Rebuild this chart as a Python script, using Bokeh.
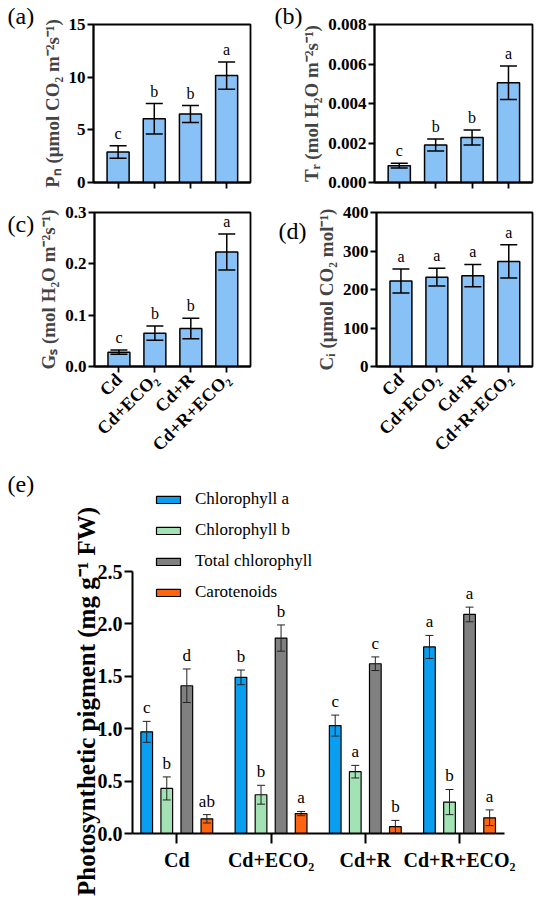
import numpy as np
from bokeh.plotting import figure
from bokeh.models import (ColumnDataSource, Whisker, TeeHead, LabelSet, Label,
                          FixedTicker, Range1d, Legend, LegendItem, NumeralTickFormatter)
from bokeh.layouts import column, row
from bokeh.embed import file_html
from bokeh.resources import INLINE
from bokeh.core.properties import value

SERIF = "Liberation Serif"

# ---------------- data ----------------
treatments = ["Cd", "Cd+ECO\u2082", "Cd+R", "Cd+R+ECO\u2082"]

pn_mean = [2.9, 6.05, 6.5, 10.15]
pn_sd = [0.6, 1.45, 0.8, 1.3]
pn_sig = ["c", "b", "b", "a"]

tr_mean = [0.00085, 0.0019, 0.00228, 0.00505]
tr_sd = [0.00012, 0.0003, 0.00038, 0.00085]
tr_sig = ["c", "b", "b", "a"]

gs_mean = [0.028, 0.065, 0.074, 0.223]
gs_sd = [0.004, 0.014, 0.02, 0.035]
gs_sig = ["c", "b", "b", "a"]

ci_mean = [222, 232, 236, 273]
ci_sd = [31, 23, 29, 43]
ci_sig = ["a", "a", "a", "a"]

pigments = ["Chlorophyll a", "Chlorophyll b", "Total chlorophyll", "Carotenoids"]
chla_mean = [0.97, 1.49, 1.03, 1.78]
chla_sd = [0.10, 0.07, 0.10, 0.11]
chla_sig = ["c", "b", "c", "a"]
chlb_mean = [0.43, 0.37, 0.59, 0.30]
chlb_sd = [0.11, 0.09, 0.06, 0.12]
chlb_sig = ["b", "b", "a", "b"]
tot_mean = [1.41, 1.865, 1.62, 2.09]
tot_sd = [0.16, 0.125, 0.065, 0.07]
tot_sig = ["d", "b", "c", "a"]
car_mean = [0.14, 0.19, 0.065, 0.15]
car_sd = [0.04, 0.02, 0.06, 0.075]
car_sig = ["ab", "a", "b", "a"]

BAR = "#88C1F6"
PIG_COLORS = ["#0A9EF0", "#A3E2B5", "#808080", "#FF6410"]


def style_axis(ax, tick_out, lw, font_size):
    ax.axis_line_width = lw
    ax.major_tick_line_width = lw
    ax.major_tick_out = tick_out
    ax.major_tick_in = 0
    ax.minor_tick_line_color = None
    ax.major_label_text_font = SERIF
    ax.major_label_text_font_style = "bold"
    ax.major_label_text_font_size = font_size
    ax.major_label_text_color = "black"


def canvas_label(text, x, y, size="24px", **kw):
    # placed in a side panel (not clipped), positioned in canvas pixels
    return Label(x=x, y=y, x_units="canvas", y_units="canvas", text=text,
                 text_font=SERIF, text_font_size=size, text_color="black", **kw)


def panel(mean, sd, sig, ylabel, yticks, ymax, fmt, tag, tag_xy,
          width, height, bl, br, bt, bb, show_x):
    x = np.arange(len(treatments))
    m = np.array(mean, dtype=float)
    s = np.array(sd, dtype=float)
    src = ColumnDataSource(dict(x=x, top=m, upper=m + s, lower=m - s, sig=sig))
    p = figure(width=width, height=height,
               x_range=Range1d(-0.68, 3.66), y_range=Range1d(0, ymax),
               output_backend="svg", toolbar_location=None,
               min_border_left=bl, min_border_right=br,
               min_border_top=bt, min_border_bottom=bb)
    p.vbar(x="x", top="top", bottom=0, width=0.61, source=src,
           fill_color=BAR, line_color="black", line_width=1.5)
    w = Whisker(base="x", upper="upper", lower="lower", source=src,
                line_color="black", line_width=1.5, level="annotation",
                upper_head=TeeHead(size=17, line_color="black", line_width=1.5),
                lower_head=TeeHead(size=17, line_color="black", line_width=1.5))
    p.add_layout(w)
    p.add_layout(LabelSet(x="x", y="upper", text="sig", source=src, y_offset=4,
                          text_align="center", text_baseline="bottom",
                          text_font=value(SERIF), text_font_size="16px",
                          text_color="black"))
    p.xgrid.visible = False
    p.ygrid.visible = False
    p.outline_line_color = "black"
    p.outline_line_width = 1.8
    style_axis(p.xaxis[0], 6, 1.8, "18px")
    style_axis(p.yaxis[0], 6, 1.8, "17px")
    p.yaxis.ticker = FixedTicker(ticks=yticks)
    p.yaxis.formatter = NumeralTickFormatter(format=fmt)
    p.yaxis.major_label_standoff = 2
    p.yaxis.axis_label = ylabel
    p.yaxis.axis_label_text_font = SERIF
    p.yaxis.axis_label_text_font_style = "bold"
    p.yaxis.axis_label_text_font_size = "19px"
    p.yaxis.axis_label_standoff = 3
    if show_x:
        p.xaxis.ticker = FixedTicker(ticks=list(range(len(treatments))))
        p.xaxis.major_label_overrides = {i: t for i, t in enumerate(treatments)}
        p.xaxis.major_label_orientation = np.pi / 4
        p.xaxis.major_label_standoff = 4
    else:
        p.xaxis.ticker = FixedTicker(ticks=[], minor_ticks=list(range(len(treatments))))
        p.xaxis.minor_tick_line_color = "black"
        p.xaxis.minor_tick_line_width = 1.8
        p.xaxis.minor_tick_out = 6
        p.xaxis.minor_tick_in = 0
    p.add_layout(canvas_label(tag, tag_xy[0], tag_xy[1], text_align="left",
                              text_baseline="middle"), "left")
    return p


# ---------------- row 1 ----------------
pa = panel(pn_mean, pn_sd, pn_sig, "P\u2099 (\u03bcmol CO\u2082 m\u207b\u00b2s\u207b\u00b9)",
           [0, 5, 10, 15], 15, "0", "(a)", (7, 15), 270, 200, 93, 20, 24, 18, False)
pb = panel(tr_mean, tr_sd, tr_sig, "T\u1d63 (mol H\u2082O m\u207b\u00b2s\u207b\u00b9)",
           [0, 0.002, 0.004, 0.006, 0.008], 0.008, "0.000", "(b)", (4, 15),
           280, 200, 103, 18, 24, 18, False)

# ---------------- row 2 ----------------
pc = panel(gs_mean, gs_sd, gs_sig, "G\u209b (mol H\u2082O m\u207b\u00b2s\u207b\u00b9)",
           [0, 0.1, 0.2, 0.3], 0.3, "0.0", "(c)", (7, 23), 270, 265, 94, 20, 12, 97, True)
pd_ = panel(ci_mean, ci_sd, ci_sig, "C\u1d62 (\u03bcmol CO\u2082 mol\u207b\u00b9)",
            [0, 100, 200, 300, 400], 400, "0", "(d)", (8, 30), 280, 265, 106, 18, 12, 97, True)

# ---------------- row 3 : panel (e) ----------------
pe = figure(width=550, height=444, x_range=Range1d(-0.47, 3.477), y_range=Range1d(0, 3.502),
            output_backend="svg", toolbar_location=None,
            min_border_left=132, min_border_right=46, min_border_top=1, min_border_bottom=76)
pe.xgrid.visible = False
pe.ygrid.visible = False
pe.outline_line_color = None

series = [(chla_mean, chla_sd, chla_sig), (chlb_mean, chlb_sd, chlb_sig),
          (tot_mean, tot_sd, tot_sig), (car_mean, car_sd, car_sig)]
step = 0.2128
gx = np.arange(len(treatments))
items = []
for k, (mean, sd, sig) in enumerate(series):
    m = np.array(mean, dtype=float)
    s = np.array(sd, dtype=float)
    src = ColumnDataSource(dict(x=gx + (k - 1.5) * step, top=m, upper=m + s,
                                lower=np.maximum(m - s, 0), sig=sig))
    r = pe.vbar(x="x", top="top", bottom=0, width=0.124, source=src,
                fill_color=PIG_COLORS[k], line_color="black", line_width=1.2)
    pe.add_layout(Whisker(base="x", upper="upper", lower="lower", source=src,
                          line_color="#222222", line_width=1, level="annotation",
                          upper_head=TeeHead(size=8, line_color="#222222", line_width=1),
                          lower_head=TeeHead(size=8, line_color="#222222", line_width=1)))
    pe.add_layout(LabelSet(x="x", y="upper", text="sig", source=src, y_offset=4,
                           text_align="center", text_baseline="bottom",
                           text_font=value(SERIF), text_font_size="17px",
                           text_color="black"))
    items.append(LegendItem(label=pigments[k], renderers=[r]))

legend = Legend(items=items, location="top_left", glyph_width=30, glyph_height=9,
                label_text_font=SERIF, label_text_font_size="17px", label_text_color="black",
                label_standoff=12, label_height=24, spacing=7, padding=0, margin=21,
                border_line_alpha=0, background_fill_alpha=0)
pe.add_layout(legend)

style_axis(pe.xaxis[0], 10, 2, "20px")
style_axis(pe.yaxis[0], 8, 2, "20px")
pe.yaxis.bounds = (0, 2.5)
pe.yaxis.ticker = FixedTicker(ticks=[0, 0.5, 1.0, 1.5, 2.0, 2.5])
pe.yaxis.formatter = NumeralTickFormatter(format="0.0")
pe.yaxis.major_label_standoff = 2
pe.xaxis.ticker = FixedTicker(ticks=list(range(len(treatments))))
pe.xaxis.major_label_overrides = {i: t for i, t in enumerate(treatments)}
pe.xaxis.major_label_standoff = 5

pe.add_layout(canvas_label("Photosynthetic pigment (mg g\u207b\u00b9 FW)", 86, 236, size="25px",
                           angle=np.pi / 2, text_font_style="bold",
                           text_align="center", text_baseline="alphabetic"), "left")
pe.add_layout(canvas_label("(e)", 7, 18, text_align="left", text_baseline="middle"), "left")

layout = column(row(pa, pb), row(pc, pd_), pe)
open("out.html", "w").write(file_html(layout, INLINE))
